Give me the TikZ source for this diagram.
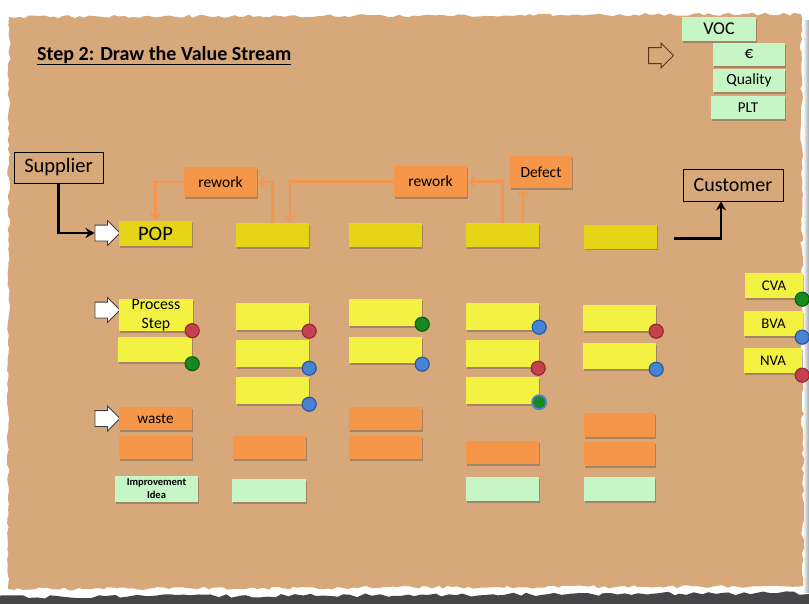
\documentclass[tikz,border=0pt]{standalone}
\usepackage{fontspec}
\setmainfont{Carlito}
\usetikzlibrary{shapes.arrows,shadows,arrows.meta,decorations.pathmorphing,calc}

\definecolor{paper}{RGB}{214,168,122}
\definecolor{floor}{RGB}{70,70,72}
\definecolor{popyellow}{RGB}{229,213,22}
\definecolor{stepyellow}{RGB}{243,241,66}
\definecolor{wasteorange}{RGB}{246,150,72}
\definecolor{ideagreen}{RGB}{198,245,198}
\definecolor{rwline}{RGB}{244,150,78}
\definecolor{arrowbrown}{RGB}{90,55,30}
\definecolor{dotred}{RGB}{196,66,78}
\definecolor{dotredrim}{RGB}{150,40,52}
\definecolor{dotblue}{RGB}{72,130,210}
\definecolor{dotbluerim}{RGB}{40,90,160}
\definecolor{dotgreen}{RGB}{22,138,32}
\definecolor{dotgreenrim}{RGB}{12,92,20}

\newcommand\fsz[2]{\fontsize{#1}{#2}\selectfont}
% invisible strut that sets the shaft thickness of a block arrow
\newcommand\shaft[1]{\rule{0pt}{#1}}

\tikzset{
  card/.style={rectangle, inner sep=0pt, align=center, text=black,
    drop shadow={shadow xshift=1pt, shadow yshift=-1.5pt, opacity=.3, fill=black!80}},
  popcard/.style={card, fill=popyellow},
  stepcard/.style={card, fill=stepyellow},
  wastecard/.style={card, fill=wasteorange},
  ideacard/.style={card, fill=ideagreen},
  framebox/.style={rectangle, draw=black, line width=0.8pt, inner sep=0pt, text=black},
  whitearrow/.style={single arrow, draw=black!75, fill=white, line width=0.8pt,
    minimum height=25pt, single arrow head extend=4.5pt, inner sep=0pt},
  hollowarrow/.style={single arrow, draw=arrowbrown, fill=paper, line width=1pt,
    minimum height=25pt, single arrow head extend=4.5pt, inner sep=0pt},
  dot/.style={circle, inner sep=0pt, minimum size=14pt, line width=1.2pt},
  reddot/.style={dot, fill=dotred, draw=dotredrim},
  bluedot/.style={dot, fill=dotblue, draw=dotbluerim},
  greendot/.style={dot, fill=dotgreen, draw=dotgreenrim},
  mixdot/.style={dot, fill=dotgreen, draw=dotblue, line width=1.8pt},
  flow/.style={draw=black, line width=2.5pt, -{Stealth[length=9pt,width=10pt]}},
  rw/.style={draw=rwline, line width=2.2pt, shorten >=1.5pt,
    -{Straight Barb[length=4.5pt,width=10pt,line width=1.8pt]}},
}

\begin{document}
\begin{tikzpicture}[x=1pt,y=-1pt]
\useasboundingbox (0,0) rectangle (809,603);
\fill[white] (0,0) rectangle (809,603);

% floor below the torn sheet and the shading at its right edge
\fill[floor, decorate, decoration={random steps,segment length=7pt,amplitude=2pt}]
  (-5,597) -- (815,593) -- (815,610) -- (-5,610) -- cycle;
\shade[left color=white, right color=black!35] (803,20) rectangle (809,592);

% the sheet of brown paper
\pgfmathsetseed{42}
\fill[paper, decorate, decoration={random steps,segment length=5pt,amplitude=1.6pt}]
  (9,17) -- (801,14) -- (803,586) -- (8,589) -- cycle;

% title
\node[anchor=base west, inner sep=0pt, text=black, font=\fsz{20}{24}\bfseries] (title) at (37,60)
  {\underline{Step 2: Draw the Value Stream}};

% customer metrics
\node[ideacard, minimum width=74pt, minimum height=24pt, font=\fsz{18}{20}] (voc) at (719,29) {VOC};
\node[ideacard, minimum width=72pt, minimum height=23pt, font=\fsz{17}{18}] (eur) at (749,54.5) {€};
\node[ideacard, minimum width=72pt, minimum height=23pt, font=\fsz{15.5}{18}] (qual) at (749,80.5) {Quality};
\node[ideacard, minimum width=74pt, minimum height=23pt, font=\fsz{15}{18}] (plt) at (748,107.5) {PLT};
\node[hollowarrow] (metricarrow) at (657,55.5) {\shaft{15pt}};

% supplier and customer
\node[framebox, minimum width=89pt, minimum height=31pt, font=\fsz{20.5}{24}] (sup) at (58.5,167.5) {Supplier};
\node[framebox, minimum width=100pt, minimum height=32pt, font=\fsz{20}{24}] (cust) at (733,185) {Customer};

% row markers
\node[whitearrow] (wa1) at (103.5,233) {\shaft{15pt}};
\node[whitearrow] (wa2) at (103.5,310) {\shaft{15pt}};
\node[whitearrow] (wa3) at (103.5,418.5) {\shaft{15pt}};

% value stream row
\node[popcard, minimum width=73pt, minimum height=25pt, font=\fsz{20.5}{24}] (pop) at (155.5,233.5) {POP};
\node[popcard, minimum width=73pt, minimum height=24pt] (b2) at (272.5,235) {};
\node[popcard, minimum width=73pt, minimum height=24pt] (b3) at (385.5,235) {};
\node[popcard, minimum width=73pt, minimum height=24pt] (b4) at (502.5,235) {};
\node[popcard, minimum width=73pt, minimum height=24pt] (b5) at (620.5,236.5) {};

% rework loops and defect
\node[wastecard, minimum width=73pt, minimum height=30pt, font=\fsz{15.5}{18}] (rw1) at (220.5,182) {rework};
\node[wastecard, minimum width=73pt, minimum height=31pt, font=\fsz{15.5}{18}] (rw2) at (430.5,181.5) {rework};
\node[wastecard, minimum width=62pt, minimum height=32pt, font=\fsz{15.5}{18}] (defect) at (541,172) {Defect};

\draw[rw] (rw1.west) -| (pop.north);
\draw[rw] (b2.north) |- (rw1.east);
\draw[rw] (rw2.west) -| ([xshift=17.5pt]b2.north);
\draw[rw] (b4.north) |- (rw2.east);
\draw[rw] ([xshift=20.5pt]b4.north) -- ([xshift=20.5pt]b4.north |- defect.south);

% material flow in and out
\draw[flow] (sup.south) |- (wa1.west);
\coordinate (flowend) at (674,238.5);
\draw[flow] (flowend) -| ([xshift=-12pt]cust.south);

% process steps
\node[stepcard, minimum width=74pt, minimum height=32pt, font=\fsz{15.8}{18.5}] (c1a) at (156,315) {Process\\Step};
\node[stepcard, minimum width=74pt, minimum height=25pt] (c1b) at (155,349.5) {};
\node[stepcard, minimum width=73pt, minimum height=27pt] (c2a) at (272.5,316.5) {};
\node[stepcard, minimum width=73pt, minimum height=27pt] (c2b) at (272.5,353.5) {};
\node[stepcard, minimum width=73pt, minimum height=27pt] (c2c) at (272.5,390.5) {};
\node[stepcard, minimum width=73pt, minimum height=27pt] (c3a) at (385.5,312.5) {};
\node[stepcard, minimum width=73pt, minimum height=26pt] (c3b) at (385.5,350) {};
\node[stepcard, minimum width=73pt, minimum height=27pt] (c4a) at (502.5,316.5) {};
\node[stepcard, minimum width=73pt, minimum height=27pt] (c4b) at (502.5,353.5) {};
\node[stepcard, minimum width=73pt, minimum height=27pt] (c4c) at (502.5,390.5) {};
\node[stepcard, minimum width=73pt, minimum height=26pt] (c5a) at (619.5,318) {};
\node[stepcard, minimum width=73pt, minimum height=26pt] (c5b) at (619.5,356) {};

% value legend
\node[stepcard, minimum width=58pt, minimum height=25pt, font=\fsz{14.8}{17}] (cva) at (774,285.5) {CVA};
\node[stepcard, minimum width=59pt, minimum height=25pt, font=\fsz{14.8}{17}] (bva) at (773.5,323.5) {BVA};
\node[stepcard, minimum width=58pt, minimum height=25pt, font=\fsz{14.8}{17}] (nva) at (773,360.5) {NVA};

% value classification dots
\node[reddot] (d1a) at ([shift={(-1pt,0.5pt)}]c1a.south east) {};
\node[greendot] (d1b) at ([shift={(0pt,-1.5pt)}]c1b.south east) {};
\node[reddot] (d2a) at ([shift={(0pt,-1pt)}]c2a.south east) {};
\node[bluedot] (d2b) at ([shift={(0pt,-1pt)}]c2b.south east) {};
\node[bluedot] (d2c) at ([shift={(0pt,0pt)}]c2c.south east) {};
\node[greendot] (d3a) at ([shift={(0pt,2pt)}]c3a.south east) {};
\node[bluedot] (d3b) at ([shift={(0pt,-1pt)}]c3b.south east) {};
\node[bluedot] (d4a) at ([shift={(0pt,3pt)}]c4a.south east) {};
\node[reddot] (d4b) at ([shift={(-1pt,-1pt)}]c4b.south east) {};
\node[mixdot] (d4c) at ([shift={(0pt,2pt)}]c4c.south east) {};
\node[reddot] (d5a) at ([shift={(0pt,0pt)}]c5a.south east) {};
\node[bluedot] (d5b) at ([shift={(0pt,0pt)}]c5b.south east) {};
\node[greendot] (dcva) at ([shift={(-1pt,-1pt)}]cva.south east) {};
\node[bluedot] (dbva) at ([shift={(-1pt,-1pt)}]bva.south east) {};
\node[reddot] (dnva) at ([shift={(0pt,-2pt)}]nva.south east) {};

% waste
\node[wastecard, minimum width=73pt, minimum height=23pt, font=\fsz{15.2}{18}] (w1a) at (155.5,418.5) {waste};
\node[wastecard, minimum width=73pt, minimum height=23pt] (w1b) at (155.5,447.5) {};
\node[wastecard, minimum width=73pt, minimum height=23pt] (w2b) at (269.5,447.5) {};
\node[wastecard, minimum width=73pt, minimum height=23pt] (w3a) at (385.5,418.5) {};
\node[wastecard, minimum width=73pt, minimum height=23pt] (w3b) at (385.5,447.5) {};
\node[wastecard, minimum width=73pt, minimum height=23pt] (w4b) at (502.5,452.5) {};
\node[wastecard, minimum width=71pt, minimum height=24pt] (w5a) at (619.5,425) {};
\node[wastecard, minimum width=71pt, minimum height=24pt] (w5b) at (619.5,454) {};

% improvement ideas
\node[ideacard, minimum width=83pt, minimum height=26pt, font=\fsz{10.5}{13}\bfseries] (i1) at (156.5,489) {Improvement\\Idea};
\node[ideacard, minimum width=74pt, minimum height=23pt] (i2) at (269,490.5) {};
\node[ideacard, minimum width=73pt, minimum height=24pt] (i4) at (502.5,489) {};
\node[ideacard, minimum width=71pt, minimum height=24pt] (i5) at (619.5,489) {};
\end{tikzpicture}
\end{document}
